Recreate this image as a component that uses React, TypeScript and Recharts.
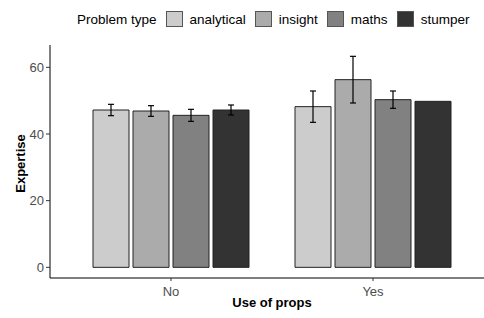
import React from 'react';
import { BarChart, Bar, ErrorBar, XAxis, YAxis, Legend, Label } from 'recharts';

const propUse = ['No', 'Yes'];
const problemTypes = ['analytical', 'insight', 'maths', 'stumper'];
const fills = ['#cccccc', '#ababab', '#818181', '#333333'];

// mean expertise per problem type, for No / Yes
const analytical = [47.2, 48.2];
const insight = [46.9, 56.3];
const maths = [45.6, 50.3];
const stumper = [47.2, 49.8];

// error (half-length of bar)
const analyticalErr = [1.7, 4.7];
const insightErr = [1.6, 7.0];
const mathsErr = [1.8, 2.6];
const stumperErr = [1.5, 0];

const yTicks = [0, 20, 40, 60];

const means = [analytical, insight, maths, stumper];
const errs = [analyticalErr, insightErr, mathsErr, stumperErr];

const data = propUse.map((p, i) => {
  const row: Record<string, string | number> = { name: p };
  problemTypes.forEach((t, j) => {
    row[t] = means[j][i];
    row[t + 'Err'] = errs[j][i];
  });
  return row;
});

const font = '"Liberation Sans", Arial, sans-serif';

// absolutely positioned so the legend does not push the plot down
const renderLegend = () =>
  <div style={{ position: 'absolute', top: 0, left: 0, width: 484, display: 'flex', alignItems: 'center', paddingLeft: 77, paddingTop: 11, boxSizing: 'border-box', fontFamily: font, fontSize: 13.5, color: '#000' }}>
    <span style={{ marginRight: 9 }}>Problem type</span>
    {problemTypes.map((t, i) =>
      <React.Fragment key={t}>
        <span style={{ display: 'inline-block', width: 17, height: 16, boxSizing: 'border-box', border: '1px solid #555', background: fills[i], marginRight: 7 }} />
        <span style={{ marginRight: 9 }}>{t}</span>
      </React.Fragment>
    )}
  </div>

const App: React.FC = () =>
  <div style={{ position: 'absolute', left: 0, top: 0, width: 484, height: 318, background: '#fff' }}>
    <BarChart width={484} height={318} data={data} margin={{ top: 45, right: 0, bottom: 0, left: 0 }} barSize={36} barGap={4}>
      <XAxis dataKey="name" height={40} padding={{ left: 20, right: 10 }} tickSize={3} tickMargin={6}
        axisLine={{ stroke: '#000' }} tickLine={{ stroke: '#333' }}
        tick={{ fill: '#4d4d4d', fontSize: 13, fontFamily: font }}>
        <Label content={({ viewBox }: any) =>
          <text x={viewBox.x + viewBox.width / 2 + 5} y={307} textAnchor="middle" fontFamily={font} fontSize={13} fontWeight="bold" fill="#000">Use of props</text>} />
      </XAxis>
      <YAxis width={50} type="number" domain={[-3.2, 66.7]} ticks={yTicks} tickSize={4} tickMargin={2}
        axisLine={{ stroke: '#000' }} tickLine={{ stroke: '#333' }}
        tick={{ fill: '#4d4d4d', fontSize: 13, fontFamily: font }}>
        <Label content={({ viewBox }: any) =>
          <text x={0} y={0} transform={`translate(25, ${viewBox.y + viewBox.height / 2 + 2}) rotate(-90)`} textAnchor="middle" fontFamily={font} fontSize={13} fontWeight="bold" fill="#000">Expertise</text>} />
      </YAxis>
      <Legend verticalAlign="top" content={renderLegend} wrapperStyle={{ top: 0, left: 0, width: 484, height: 0 }} />
      {problemTypes.map((t, i) =>
        <Bar key={t} dataKey={t} fill={fills[i]} stroke="#222" strokeWidth={1} isAnimationActive={false}>
          <ErrorBar dataKey={t + 'Err'} width={3} stroke="#000" strokeWidth={1.2} direction="y" />
        </Bar>
      )}
    </BarChart>
  </div>

export default App
